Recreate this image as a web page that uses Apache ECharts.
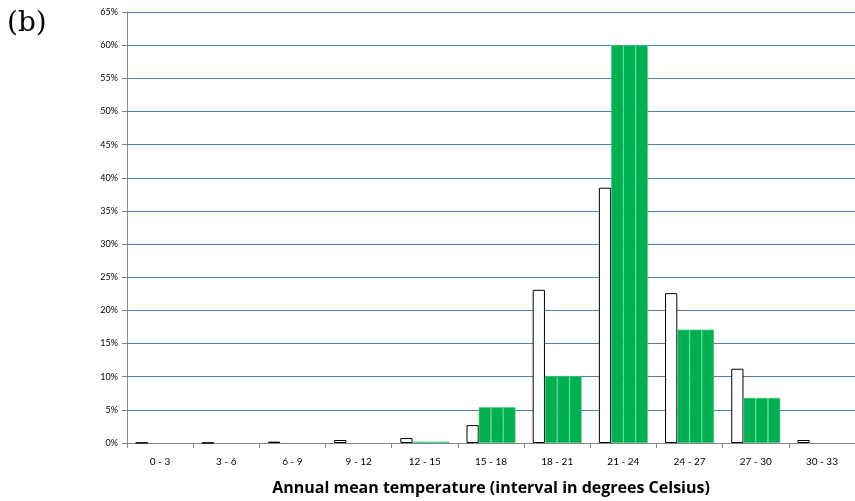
<!DOCTYPE html>
<html>
<head>
<meta charset="utf-8">
<script src="https://cdn.jsdelivr.net/npm/echarts@6/dist/echarts.min.js"></script>
<style>
  html, body { margin: 0; padding: 0; background: #fff; }
  #chart { width: 855px; height: 501px; }
</style>
</head>
<body>
<div id="chart"></div>
<script>
// temperature intervals
const categories = ['0 - 3', '3 - 6', '6 - 9', '9 - 12', '12 - 15', '15 - 18', '18 - 21', '21 - 24', '24 - 27', '27 - 30', '30 - 33'];
// white (outlined) bars, percent
const whiteValues = [0.03, 0.03, 0.2, 0.45, 0.75, 2.7, 23.1, 38.5, 22.6, 11.2, 0.45];
// green bars, percent
const greenValues = [0, 0, 0, 0, 0.2, 5.4, 10.1, 60, 17.1, 6.8, 0];
const yTicks = [0, 5, 10, 15, 20, 25, 30, 35, 40, 45, 50, 55, 60, 65];

const chart = echarts.init(document.getElementById('chart'));

// zero bars are not drawn in the original
const greenData = greenValues.map(function (v) { return v === 0 ? null : v; });

// green bar is drawn as three adjacent pieces
const greenSeries = [0, 1, 2].map(function (i) {
  return {
    type: 'bar',
    data: greenData,
    barGap: 0,
    barCategoryGap: '26%',
    itemStyle: { color: '#00b050', borderColor: '#4fd088', borderWidth: 0.6 },
    silent: true
  };
});

const option = {
  animation: false,
  graphic: [{
    type: 'text',
    left: 7,
    top: 10,
    style: { text: '(b)', font: '28px "DejaVu Serif", serif', fill: '#000' }
  }],
  grid: { left: 127, right: 0, top: 12, bottom: 58 - 2 },
  xAxis: {
    type: 'category',
    data: categories,
    name: 'Annual mean temperature (interval in degrees Celsius)',
    nameLocation: 'middle',
    nameGap: 37,
    nameTextStyle: { fontFamily: 'Open Sans', fontWeight: 'bold', fontSize: 16, color: '#000' },
    axisLine: { lineStyle: { color: '#868686', width: 1 } },
    axisTick: { show: true, length: 5, lineStyle: { color: '#868686' } },
    axisLabel: { fontFamily: 'Lato', fontSize: 10, color: '#000', margin: 14 }
  },
  yAxis: {
    type: 'value',
    min: 0,
    max: 65,
    interval: 5,
    axisLine: { show: true, lineStyle: { color: '#868686' } },
    axisTick: { show: true, length: 5, lineStyle: { color: '#868686' } },
    axisLabel: {
      fontFamily: 'Lato', fontSize: 9, color: '#000', margin: 9,
      formatter: function (v) { return yTicks.indexOf(v) >= 0 ? v + '%' : ''; }
    },
    splitLine: { lineStyle: { color: '#4a7ebb', width: 1 } }
  },
  series: [{
    type: 'bar',
    data: whiteValues,
    barGap: 0,
    barCategoryGap: '26%',
    itemStyle: { color: '#fff', borderColor: '#000', borderWidth: 1 }
  }].concat(greenSeries)
};

chart.setOption(option);
</script>
</body>
</html>
